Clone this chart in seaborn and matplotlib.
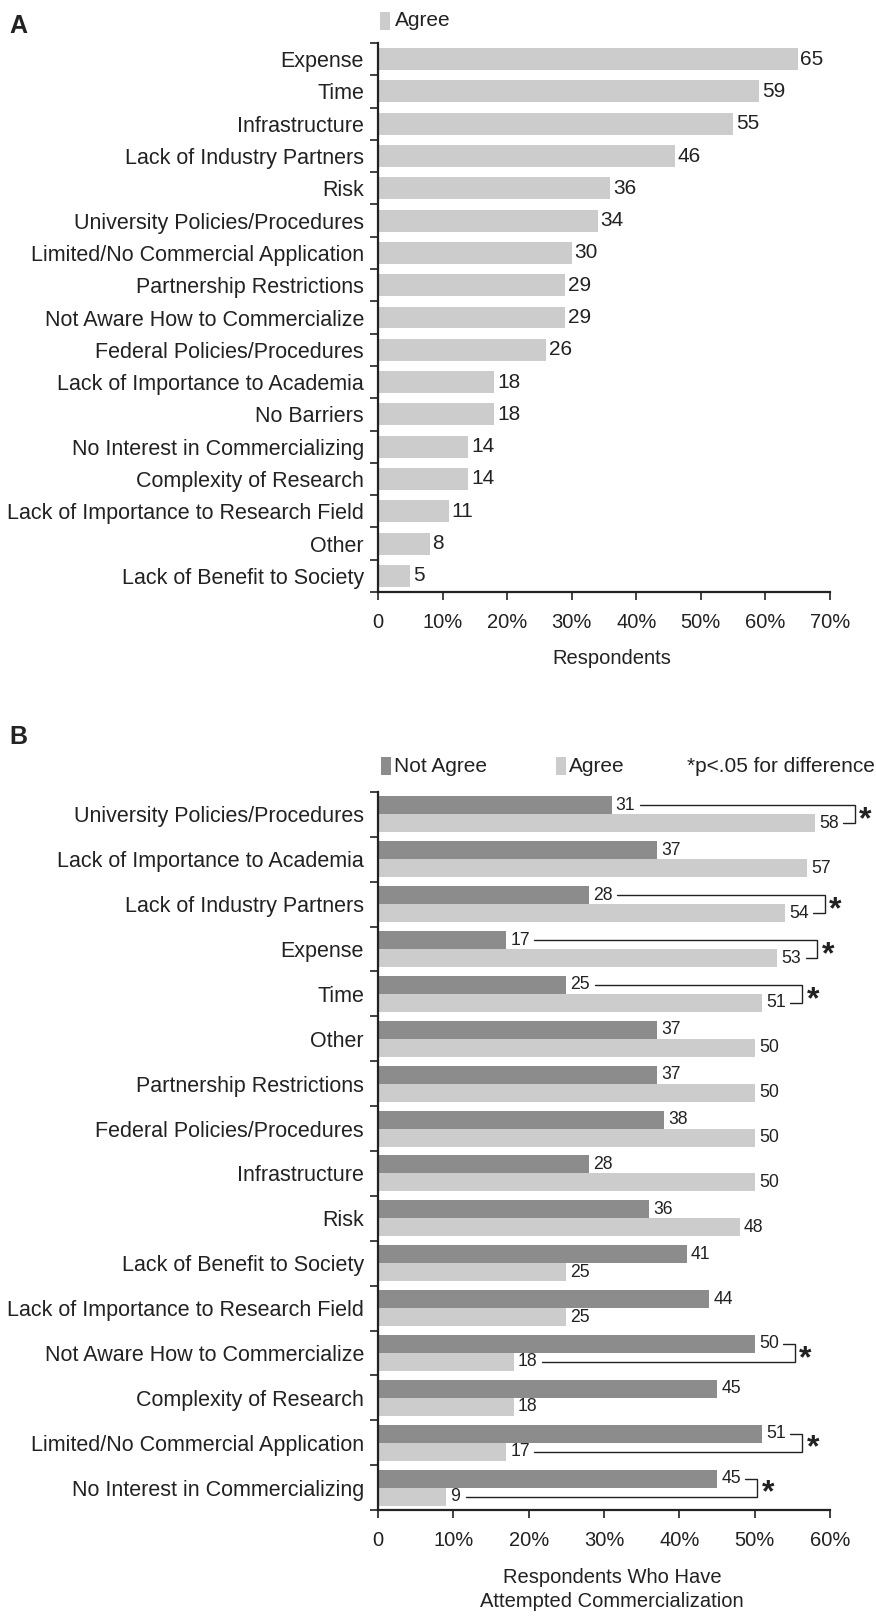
import numpy as np
import pandas as pd
import matplotlib
matplotlib.use("Agg")
import matplotlib.pyplot as plt
from matplotlib.patches import Rectangle
from matplotlib.ticker import FixedLocator
import seaborn as sns

# ---------------- data ----------------
a_categories = ["Expense", "Time", "Infrastructure", "Lack of Industry Partners", "Risk",
                "University Policies/Procedures", "Limited/No Commercial Application",
                "Partnership Restrictions", "Not Aware How to Commercialize",
                "Federal Policies/Procedures", "Lack of Importance to Academia", "No Barriers",
                "No Interest in Commercializing", "Complexity of Research",
                "Lack of Importance to Research Field", "Other", "Lack of Benefit to Society"]
a_agree = [65, 59, 55, 46, 36, 34, 30, 29, 29, 26, 18, 18, 14, 14, 11, 8, 5]

b_categories = ["University Policies/Procedures", "Lack of Importance to Academia",
                "Lack of Industry Partners", "Expense", "Time", "Other",
                "Partnership Restrictions", "Federal Policies/Procedures", "Infrastructure",
                "Risk", "Lack of Benefit to Society", "Lack of Importance to Research Field",
                "Not Aware How to Commercialize", "Complexity of Research",
                "Limited/No Commercial Application", "No Interest in Commercializing"]
b_not_agree = [31, 37, 28, 17, 25, 37, 37, 38, 28, 36, 41, 44, 50, 45, 51, 45]
b_agree = [58, 57, 54, 53, 51, 50, 50, 50, 50, 48, 25, 25, 18, 18, 17, 9]
b_significant = [True, False, True, True, True, False, False, False, False, False,
                 False, False, True, False, True, True]

a_xticks = [0, 10, 20, 30, 40, 50, 60, 70]
b_xticks = [0, 10, 20, 30, 40, 50, 60]

# ---------------- style ----------------
sns.set_style("ticks")
plt.rcParams["font.family"] = ["Liberation Sans", "DejaVu Sans"]
NARROW = ["Liberation Sans Narrow", "Liberation Sans", "DejaVu Sans"]
TXT = "#222222"
DARK = "#8c8c8c"
LIGHT = "#cccccc"
plt.rcParams["text.color"] = TXT
plt.rcParams["axes.labelcolor"] = TXT
plt.rcParams["xtick.color"] = TXT
plt.rcParams["ytick.color"] = TXT

W, H = 876, 1618
fig = plt.figure(figsize=(W / 100, H / 100), dpi=100)

def fx(px):
    return px / W

def fy(py):
    return 1 - py / H

axA = fig.add_axes([fx(378), fy(592), fx(830) - fx(378), fy(43) - fy(592)])
axB = fig.add_axes([fx(378), fy(1510), fx(830) - fx(378), fy(792) - fy(1510)])

def tick_fmt(v):
    return "0" if v == 0 else f"{v}%"

def style_axis(ax, cats, xticks):
    n = len(cats)
    ax.set_ylim(n - 0.5, -0.5)
    ax.set_xlim(xticks[0], xticks[-1])
    ax.set_yticks(range(n))
    ax.set_yticklabels(cats, fontsize=15.5)
    ax.yaxis.set_minor_locator(FixedLocator(np.arange(-0.5, n, 1.0)))
    ax.tick_params(axis="y", which="major", length=0, pad=10)
    ax.tick_params(axis="y", which="minor", length=6, width=1.2, direction="out")
    ax.set_xticks(xticks)
    ax.set_xticklabels([tick_fmt(v) for v in xticks], fontsize=14.5)
    ax.tick_params(axis="x", which="major", length=6, width=1.2, direction="out", pad=9)
    for s in ["top", "right"]:
        ax.spines[s].set_visible(False)
    for s in ["left", "bottom"]:
        ax.spines[s].set_linewidth(1.6)
        ax.spines[s].set_color(TXT)
    ax.set_ylabel("")

# ---------------- panel A ----------------
dfA = pd.DataFrame({"category": a_categories, "value": a_agree})
sns.barplot(data=dfA, x="value", y="category", color=LIGHT, width=0.68,
            orient="h", ax=axA, linewidth=0, saturation=1)
style_axis(axA, a_categories, a_xticks)
axA.bar_label(axA.containers[0], labels=[str(v) for v in a_agree], padding=2, fontsize=15,
              color=TXT, family=NARROW)
axA.set_xlabel("Respondents", fontsize=14.5, labelpad=12)
axA.xaxis.label.set_x((612 - 378) / (830 - 378))

# ---------------- panel B ----------------
dfB = pd.DataFrame({
    "category": b_categories * 2,
    "value": b_not_agree + b_agree,
    "group": ["Not Agree"] * len(b_categories) + ["Agree"] * len(b_categories),
})
sns.barplot(data=dfB, x="value", y="category", hue="group",
            hue_order=["Not Agree", "Agree"], palette=[DARK, LIGHT], width=0.8,
            orient="h", ax=axB, linewidth=0, saturation=1, legend=False)
style_axis(axB, b_categories, b_xticks)
axB.bar_label(axB.containers[0], labels=[str(v) for v in b_not_agree], padding=3,
              fontsize=12.7, color=TXT, family=NARROW)
axB.bar_label(axB.containers[1], labels=[str(v) for v in b_agree], padding=3,
              fontsize=12.7, color=TXT, family=NARROW)
axB.set_xlabel("Respondents Who Have\nAttempted Commercialization", fontsize=14.5,
               labelpad=13, linespacing=1.32)
axB.xaxis.label.set_x((612 - 378) / (830 - 378))

# significance brackets
def line_start(v):
    return v + 1.55 + 1.1 * len(str(v))

for i, sig in enumerate(b_significant):
    if not sig:
        continue
    d, l = b_not_agree[i], b_agree[i]
    xb = max(d, l) + 5.3
    yd, yl = i - 0.2, i + 0.2
    axB.plot([line_start(d), xb, xb, line_start(l)], [yd, yd, yl, yl],
             color=TXT, lw=1.0, clip_on=False, solid_joinstyle="miter")
    axB.text(xb + 0.6, i + 0.31, "*", fontsize=23, fontweight="bold", ha="left",
             va="baseline", color=TXT)

# ---------------- legends & panel letters ----------------
def legend_patch(x0, yc, color):
    fig.patches.append(Rectangle((fx(x0), fy(yc + 9)), fx(10), 18 / H, transform=fig.transFigure,
                                 facecolor=color, edgecolor="none"))

legend_patch(380, 21, LIGHT)
fig.text(fx(395), fy(21), "Agree", fontsize=15, va="center", ha="left")

legend_patch(381, 766, DARK)
fig.text(fx(394), fy(766), "Not Agree", fontsize=15, va="center", ha="left")
legend_patch(556, 766, LIGHT)
fig.text(fx(569), fy(766), "Agree", fontsize=15, va="center", ha="left")
fig.text(fx(875), fy(766), "*p<.05 for difference", fontsize=15, va="center", ha="right")

fig.text(fx(9), fy(33), "A", fontsize=18, fontweight="bold", va="baseline", ha="left")
fig.text(fx(9), fy(744), "B", fontsize=18, fontweight="bold", va="baseline", ha="left")

fig.savefig("out.png", dpi=100)
